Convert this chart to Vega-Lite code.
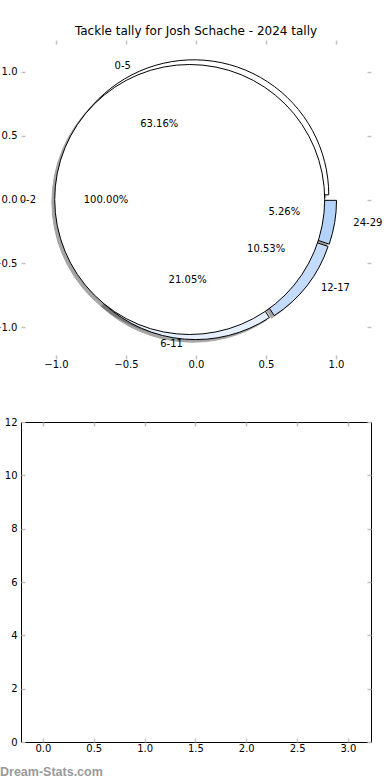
{
  "$schema": "https://vega.github.io/schema/vega-lite/v6.json",
  "background": "white",
  "padding": {"left": -8, "top": 24, "right": 10, "bottom": 0},
  "bounds": "flush",
  "spacing": 63,
  "title": {"text": "Dream-Stats.com", "orient": "bottom", "anchor": "start", "frame": "group", "font": "Liberation Sans", "fontSize": 12.5, "fontWeight": "bold", "color": "#999999", "offset": 12, "dx": -21, "baseline": "top"},
  "config": {
    "font": "DejaVu Sans",
    "view": {"stroke": null},
    "axis": {"labelFont": "DejaVu Sans", "labelFontSize": 10, "labelColor": "#000000", "tickColor": "#c0c0c0", "tickSize": -4, "tickWidth": 1.5, "grid": false, "domain": false, "labelFlush": false},
    "text": {"font": "DejaVu Sans", "fontSize": 10, "color": "#000000", "baseline": "middle"}
  },
  "datasets": {
    "tally": [
      {"range": "0-5", "lo": 0, "share": 0.631579},
      {"range": "6-11", "lo": 6, "share": 0.210526},
      {"range": "12-17", "lo": 12, "share": 0.105263},
      {"range": "24-29", "lo": 24, "share": 0.052632}
    ],
    "overall": [
      {"range": "0-2", "lo": 0, "share": 1.0}
    ],
    "empty": []
  },
  "vconcat": [
    {
      "width": 350,
      "height": 319,
      "title": {"text": "Tackle tally for Josh Schache - 2024 tally", "font": "DejaVu Sans", "fontSize": 12, "fontWeight": "normal", "color": "#000000", "offset": -7.5, "baseline": "alphabetic"},
      "layer": [
        {
          "data": {"name": "tally"},
          "transform": [{"stack": "share", "groupby": [], "sort": [{"field": "lo", "order": "ascending"}], "as": ["t0", "t1"]}, {"filter": "datum.range === '0-5'"}],
          "mark": {"type": "arc", "outerRadius": 135, "fill": "#4d4d4d", "stroke": "#4d4d4d", "strokeWidth": 1, "opacity": 0.5, "xOffset": -5.05, "yOffset": -2.13},
          "encoding": {"theta": {"field": "t0", "type": "quantitative", "stack": null, "scale": {"domain": [0, 1], "range": [1.5707963267948966, -4.71238898038469]}}, "theta2": {"field": "t1"}}
        },
        {
          "data": {"name": "tally"},
          "transform": [{"stack": "share", "groupby": [], "sort": [{"field": "lo", "order": "ascending"}], "as": ["t0", "t1"]}, {"filter": "datum.range === '6-11'"}],
          "mark": {"type": "arc", "outerRadius": 135, "fill": "#4d4d4d", "stroke": "#4d4d4d", "strokeWidth": 1, "opacity": 0.5, "xOffset": -3.26, "yOffset": 7.66},
          "encoding": {"theta": {"field": "t0", "type": "quantitative", "stack": null}, "theta2": {"field": "t1"}}
        },
        {
          "data": {"name": "tally"},
          "transform": [{"stack": "share", "groupby": [], "sort": [{"field": "lo", "order": "ascending"}], "as": ["t0", "t1"]}, {"filter": "datum.range === '12-17'"}],
          "mark": {"type": "arc", "outerRadius": 135, "fill": "#4d4d4d", "stroke": "#4d4d4d", "strokeWidth": 1, "opacity": 0.5, "xOffset": 1.62, "yOffset": 5.7},
          "encoding": {"theta": {"field": "t0", "type": "quantitative", "stack": null}, "theta2": {"field": "t1"}}
        },
        {
          "data": {"name": "tally"},
          "transform": [{"stack": "share", "groupby": [], "sort": [{"field": "lo", "order": "ascending"}], "as": ["t0", "t1"]}, {"filter": "datum.range === '24-29'"}],
          "mark": {"type": "arc", "outerRadius": 135, "fill": "#4d4d4d", "stroke": "#4d4d4d", "strokeWidth": 1, "opacity": 0.5, "xOffset": 2.72, "yOffset": 3.4},
          "encoding": {"theta": {"field": "t0", "type": "quantitative", "stack": null}, "theta2": {"field": "t1"}}
        },
        {
          "data": {"name": "overall"},
          "transform": [{"stack": "share", "groupby": [], "as": ["t0", "t1"]}],
          "mark": {"type": "arc", "outerRadius": 135, "fill": "#4d4d4d", "stroke": "#4d4d4d", "strokeWidth": 1, "opacity": 0.5, "xOffset": -9.1, "yOffset": 2.56},
          "encoding": {
            "x": {"datum": 0, "type": "quantitative", "scale": {"domain": [-1.25, 1.25], "nice": false, "zero": false}, "axis": {"orient": "bottom", "values": [-1, -0.5, 0, 0.5, 1], "format": ".1f", "title": null, "labelPadding": 4}},
            "y": {"datum": 0, "type": "quantitative", "scale": {"domain": [-1.25, 1.25], "nice": false, "zero": false}, "axis": {"orient": "left", "values": [-1, -0.5, 0, 0.5, 1], "format": ".1f", "title": null, "labelPadding": 8}},
            "theta": {"field": "t0", "type": "quantitative", "stack": null}, "theta2": {"field": "t1"}
          }
        },
        {
          "data": {"name": "tally"},
          "transform": [{"stack": "share", "groupby": [], "sort": [{"field": "lo", "order": "ascending"}], "as": ["t0", "t1"]}, {"filter": "datum.range === '0-5'"}],
          "mark": {"type": "arc", "outerRadius": 135, "fill": "#ffffff", "stroke": "#000000", "strokeWidth": 1, "xOffset": -2.25, "yOffset": -4.69},
          "encoding": {"theta": {"field": "t0", "type": "quantitative", "stack": null}, "theta2": {"field": "t1"}}
        },
        {
          "data": {"name": "tally"},
          "transform": [{"stack": "share", "groupby": [], "sort": [{"field": "lo", "order": "ascending"}], "as": ["t0", "t1"]}, {"filter": "datum.range === '6-11'"}],
          "mark": {"type": "arc", "outerRadius": 135, "fill": "#e6efff", "stroke": "#000000", "strokeWidth": 1, "xOffset": -0.46, "yOffset": 5.1},
          "encoding": {"theta": {"field": "t0", "type": "quantitative", "stack": null}, "theta2": {"field": "t1"}}
        },
        {
          "data": {"name": "tally"},
          "transform": [{"stack": "share", "groupby": [], "sort": [{"field": "lo", "order": "ascending"}], "as": ["t0", "t1"]}, {"filter": "datum.range === '12-17'"}],
          "mark": {"type": "arc", "outerRadius": 135, "fill": "#c4dbfb", "stroke": "#000000", "strokeWidth": 1, "xOffset": 4.42, "yOffset": 3.14},
          "encoding": {"theta": {"field": "t0", "type": "quantitative", "stack": null}, "theta2": {"field": "t1"}}
        },
        {
          "data": {"name": "tally"},
          "transform": [{"stack": "share", "groupby": [], "sort": [{"field": "lo", "order": "ascending"}], "as": ["t0", "t1"]}, {"filter": "datum.range === '24-29'"}],
          "mark": {"type": "arc", "outerRadius": 135, "fill": "#b3d3fb", "stroke": "#000000", "strokeWidth": 1, "xOffset": 5.52, "yOffset": 0.84},
          "encoding": {"theta": {"field": "t0", "type": "quantitative", "stack": null}, "theta2": {"field": "t1"}}
        },
        {
          "data": {"name": "overall"},
          "transform": [{"stack": "share", "groupby": [], "as": ["t0", "t1"]}],
          "mark": {"type": "arc", "outerRadius": 135, "fill": "#ffffff", "stroke": "#000000", "strokeWidth": 1, "xOffset": -6.3},
          "encoding": {
            "x": {"datum": 0, "type": "quantitative", "axis": {"orient": "top", "values": [-1, -0.5, 0, 0.5, 1], "labels": false, "title": null}},
            "y": {"datum": 0, "type": "quantitative", "axis": {"orient": "right", "values": [-1, -0.5, 0, 0.5, 1], "labels": false, "title": null}},
            "theta": {"field": "t0", "type": "quantitative", "stack": null}, "theta2": {"field": "t1"}
          }
        },
        {
          "data": {"name": "tally"},
          "mark": {"type": "text", "radius": 157, "align": "left", "dx": 2.5, "dy": -2.4},
          "encoding": {
            "theta": {"field": "share", "type": "quantitative", "stack": true},
            "order": {"field": "lo", "type": "quantitative"},
            "detail": {"field": "range", "type": "nominal"},
            "text": {"condition": {"test": "datum.range === '24-29'", "field": "range", "type": "nominal"}, "value": ""}
          }
        },
        {
          "data": {"name": "tally"},
          "mark": {"type": "text", "radius": 157, "align": "left", "dx": 1, "dy": -8},
          "encoding": {
            "theta": {"field": "share", "type": "quantitative", "stack": true},
            "order": {"field": "lo", "type": "quantitative"},
            "detail": {"field": "range", "type": "nominal"},
            "text": {"condition": {"test": "datum.range === '12-17'", "field": "range", "type": "nominal"}, "value": ""}
          }
        },
        {
          "data": {"name": "tally"},
          "mark": {"type": "text", "radius": 147, "align": "right", "dx": -6, "dy": 1},
          "encoding": {
            "theta": {"field": "share", "type": "quantitative", "stack": true},
            "order": {"field": "lo", "type": "quantitative"},
            "detail": {"field": "range", "type": "nominal"},
            "text": {"condition": {"test": "datum.range === '0-5'", "field": "range", "type": "nominal"}, "value": ""}
          }
        },
        {
          "data": {"name": "tally"},
          "mark": {"type": "text", "radius": 147, "align": "right", "dx": -1, "dy": -2},
          "encoding": {
            "theta": {"field": "share", "type": "quantitative", "stack": true},
            "order": {"field": "lo", "type": "quantitative"},
            "detail": {"field": "range", "type": "nominal"},
            "text": {"condition": {"test": "datum.range === '6-11'", "field": "range", "type": "nominal"}, "value": ""}
          }
        },
        {
          "data": {"name": "tally"},
          "mark": {"type": "text", "radius": 85, "align": "center", "dx": -2.6, "dy": 2.7},
          "encoding": {
            "theta": {"field": "share", "type": "quantitative", "stack": true},
            "order": {"field": "lo", "type": "quantitative"},
            "detail": {"field": "range", "type": "nominal"},
            "text": {"condition": {"test": "datum.range === '0-5'", "field": "share", "type": "quantitative", "format": ".2%"}, "value": ""}
          }
        },
        {
          "data": {"name": "tally"},
          "mark": {"type": "text", "radius": 85, "align": "center", "dx": -1.3, "dy": -4},
          "encoding": {
            "theta": {"field": "share", "type": "quantitative", "stack": true},
            "order": {"field": "lo", "type": "quantitative"},
            "detail": {"field": "range", "type": "nominal"},
            "text": {"condition": {"test": "datum.range === '6-11'", "field": "share", "type": "quantitative", "format": ".2%"}, "value": ""}
          }
        },
        {
          "data": {"name": "tally"},
          "mark": {"type": "text", "radius": 85, "align": "center", "dx": 3, "dy": -2.4},
          "encoding": {
            "theta": {"field": "share", "type": "quantitative", "stack": true},
            "order": {"field": "lo", "type": "quantitative"},
            "detail": {"field": "range", "type": "nominal"},
            "text": {"condition": {"test": "datum.range === '12-17'", "field": "share", "type": "quantitative", "format": ".2%"}, "value": ""}
          }
        },
        {
          "data": {"name": "tally"},
          "mark": {"type": "text", "radius": 85, "align": "center", "dx": 4.5, "dy": -1.5},
          "encoding": {
            "theta": {"field": "share", "type": "quantitative", "stack": true},
            "order": {"field": "lo", "type": "quantitative"},
            "detail": {"field": "range", "type": "nominal"},
            "text": {"condition": {"test": "datum.range === '24-29'", "field": "share", "type": "quantitative", "format": ".2%"}, "value": ""}
          }
        },
        {
          "data": {"name": "overall"},
          "mark": {"type": "text", "radius": 160, "align": "right"},
          "encoding": {
            "theta": {"field": "share", "type": "quantitative", "stack": true},
            "detail": {"field": "range", "type": "nominal"},
            "text": {"field": "range", "type": "nominal"}
          }
        },
        {
          "data": {"name": "overall"},
          "mark": {"type": "text", "radius": 90, "align": "center"},
          "encoding": {
            "theta": {"field": "share", "type": "quantitative", "stack": true},
            "detail": {"field": "range", "type": "nominal"},
            "text": {"field": "share", "type": "quantitative", "format": ".2%"}
          }
        }
      ]
    },
    {
      "width": 350,
      "height": 320,
      "view": {"stroke": "#000000", "strokeWidth": 1},
      "data": {"name": "empty"},
      "layer": [
        {
          "mark": {"type": "point"},
          "encoding": {
            "x": {"field": "x", "type": "quantitative", "scale": {"domain": [-0.216, 3.227], "nice": false, "zero": false}, "axis": {"orient": "bottom", "values": [0, 0.5, 1, 1.5, 2, 2.5, 3], "format": ".1f", "title": null, "labelPadding": 5}},
            "y": {"field": "y", "type": "quantitative", "scale": {"domain": [0, 12], "nice": false, "zero": false}, "axis": {"orient": "left", "values": [0, 2, 4, 6, 8, 10, 12], "format": "d", "title": null, "labelPadding": 8}}
          }
        },
        {
          "mark": {"type": "point"},
          "encoding": {
            "x": {"field": "x", "type": "quantitative", "axis": {"orient": "top", "values": [0, 0.5, 1, 1.5, 2, 2.5, 3], "labels": false, "title": null}},
            "y": {"field": "y", "type": "quantitative", "axis": {"orient": "right", "values": [0, 2, 4, 6, 8, 10, 12], "labels": false, "title": null}}
          }
        }
      ]
    }
  ]
}
